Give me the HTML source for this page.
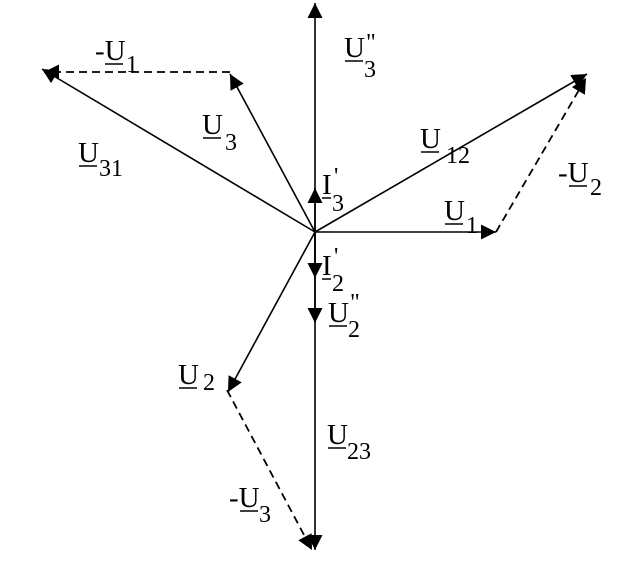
<!DOCTYPE html>
<html><head><style>
body{margin:0;background:#fff}
svg text{font-family:"Liberation Serif",serif;font-size:29px;fill:#000}
.s{font-size:24px}
</style></head><body>
<svg width="632" height="558" viewBox="0 0 632 558" xmlns="http://www.w3.org/2000/svg">
<defs>
<marker id="a" viewBox="0 0 10 10" refX="10" refY="5" markerWidth="20" markerHeight="15" markerUnits="userSpaceOnUse" orient="auto"><path d="M0,0L10,5L0,10z" fill="#000"/></marker>
</defs>
<g stroke="#000" stroke-width="1.6" fill="none" marker-end="url(#a)">
<line x1="315" y1="232" x2="315" y2="3"/>
<line x1="315" y1="232" x2="315" y2="188"/>
<line x1="315" y1="232" x2="315" y2="278"/>
<line x1="315" y1="232" x2="315" y2="323"/>
<line x1="315" y1="232" x2="315" y2="550"/>
<line x1="315" y1="232" x2="496" y2="232"/>
<line x1="315" y1="232" x2="587" y2="74"/>
<line x1="315" y1="232" x2="230" y2="74"/>
<line x1="315" y1="232" x2="42" y2="69"/>
<line x1="315" y1="232" x2="228" y2="392"/>
</g>
<g stroke="#000" stroke-width="1.8" fill="none" stroke-dasharray="8,5" marker-end="url(#a)">
<line x1="230" y1="72" x2="44" y2="72"/>
<line x1="496" y1="232" x2="586" y2="78"/>
<line x1="227" y1="390" x2="312" y2="550"/>
</g>
<g>
<text x="344" y="57">U</text><line x1="345" y1="61" x2="363" y2="61" stroke="#000" stroke-width="1.5"/><text class="s" x="364" y="77">3</text><text class="s" x="366" y="50">"</text>
<text x="95" y="60">-U</text><line x1="105" y1="64" x2="123" y2="64" stroke="#000" stroke-width="1.5"/><text class="s" x="126" y="72">1</text>
<text x="202" y="134">U</text><line x1="203" y1="138" x2="221" y2="138" stroke="#000" stroke-width="1.5"/><text class="s" x="225" y="150">3</text>
<text x="78" y="162">U</text><line x1="79" y1="166" x2="97" y2="166" stroke="#000" stroke-width="1.5"/><text class="s" x="99" y="176">31</text>
<text x="420" y="148">U</text><line x1="421" y1="152" x2="439" y2="152" stroke="#000" stroke-width="1.5"/><text class="s" x="446" y="163">12</text>
<text x="558" y="182">-U</text><line x1="569" y1="186" x2="587" y2="186" stroke="#000" stroke-width="1.5"/><text class="s" x="590" y="195">2</text>
<text x="444" y="220">U</text><line x1="445" y1="224" x2="463" y2="224" stroke="#000" stroke-width="1.5"/><text class="s" x="466" y="233">1</text>
<text x="322" y="194">I</text><line x1="322" y1="198" x2="331" y2="198" stroke="#000" stroke-width="1.5"/><text class="s" x="332" y="211">3</text><text class="s" x="334" y="184">'</text>
<text x="322" y="275">I</text><line x1="322" y1="279" x2="331" y2="279" stroke="#000" stroke-width="1.5"/><text class="s" x="332" y="291">2</text><text class="s" x="334" y="264">'</text>
<text x="328" y="322">U</text><line x1="329" y1="326" x2="347" y2="326" stroke="#000" stroke-width="1.5"/><text class="s" x="348" y="337">2</text><text class="s" x="350" y="310">"</text>
<text x="178" y="384">U</text><line x1="179" y1="388" x2="197" y2="388" stroke="#000" stroke-width="1.5"/><text class="s" x="203" y="390">2</text>
<text x="327" y="444">U</text><line x1="328" y1="448" x2="346" y2="448" stroke="#000" stroke-width="1.5"/><text class="s" x="347" y="459">23</text>
<text x="229" y="507">-U</text><line x1="240" y1="511" x2="258" y2="511" stroke="#000" stroke-width="1.5"/><text class="s" x="259" y="522">3</text>
</g>
</svg>
</body></html>
